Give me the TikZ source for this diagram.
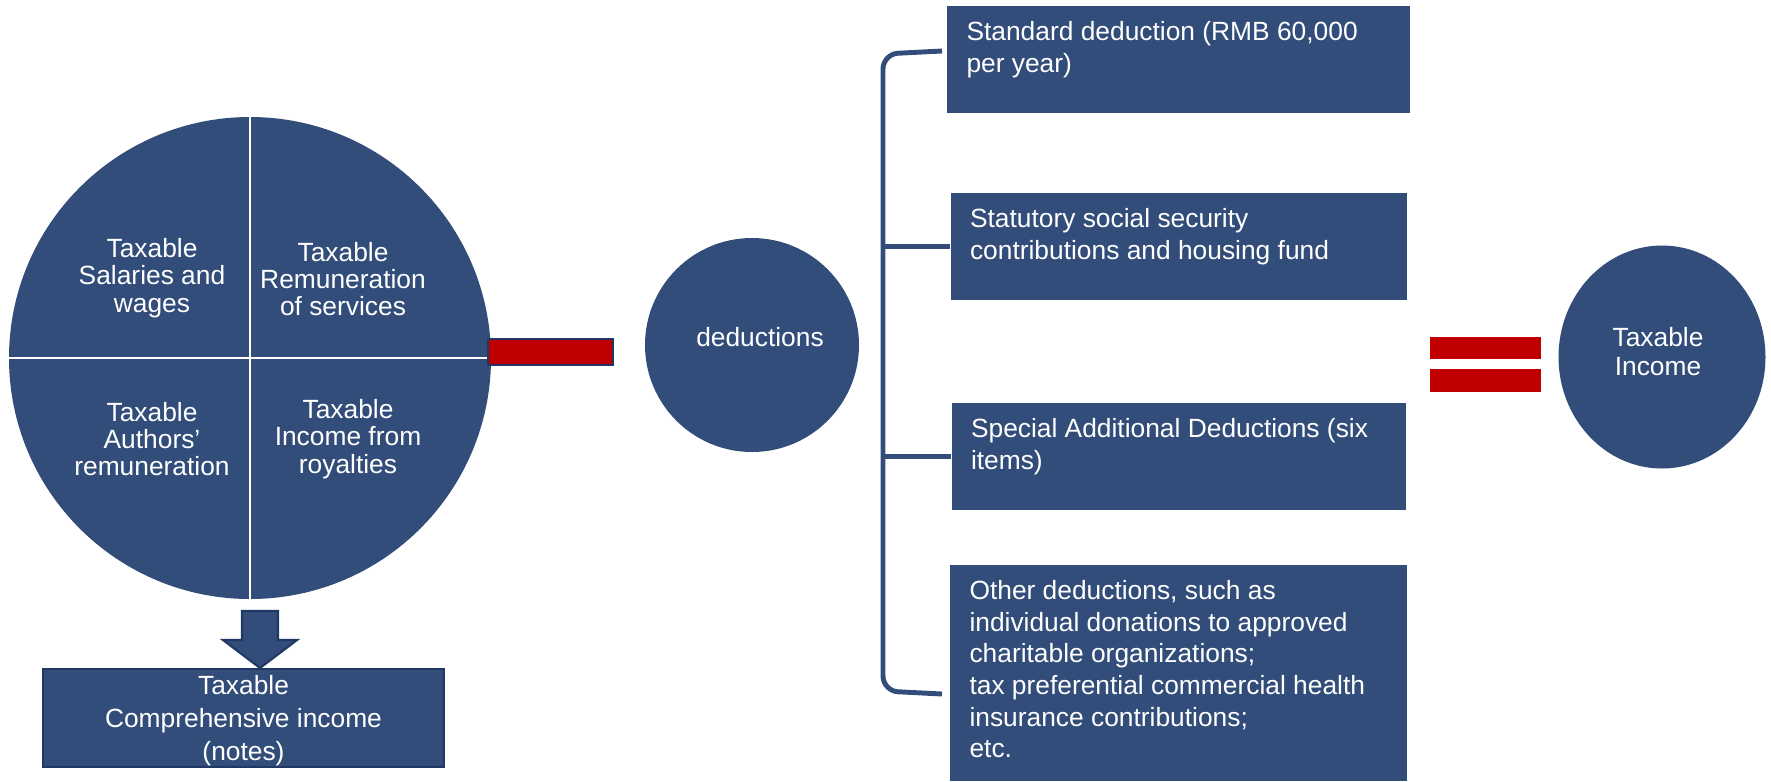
\documentclass[tikz,border=0pt]{standalone}
\usepackage{fontspec}
\setmainfont{Liberation Sans}
\usetikzlibrary{positioning,shapes.geometric}
\definecolor{navy}{HTML}{324D79}
\definecolor{darknavy}{HTML}{1F3864}
\definecolor{minusred}{HTML}{C00000}

\begin{document}
\begin{tikzpicture}[x=0.1mm, y=0.1mm, auto,
        % Define styles
        bigcircle/.style={
        circle,
        fill=navy,
        text=white,
        inner sep=0pt,
        align=center,
        font=\fontsize{7.5pt}{8.25pt}\selectfont
        },
        quarter/.style={text=white, align=center, font=\fontsize{7.5pt}{7.8pt}\selectfont},
        dedbox/.style={rectangle, fill=navy, inner sep=0pt},
        boxtext/.style={text=white, align=left, inner sep=0pt, font=\fontsize{7.5pt}{9pt}\selectfont},
        redbar/.style={rectangle, fill=minusred, inner sep=0pt},
        bracket/.style={draw=navy, line width=1.4pt}
        ]
        \useasboundingbox (0,0) rectangle (1771,-781);

        % Income circle
        \node[bigcircle, minimum size=48.2mm] (income) at (250,-358) {};
        \draw[white, line width=0.8pt] (income.north) -- (income.south);
        \draw[white, line width=0.8pt] (income.west) -- (income.east);
        \node[quarter] (salaries) at (152,-278) {Taxable\\Salaries and\\wages};
        \node[quarter] (services) at (343,-279) {Taxable\\Remuneration\\of services};
        \node[quarter] (authors) at (152,-439) {Taxable\\Authors'\\remuneration};
        \node[quarter] (royalties) at (348,-439) {Taxable\\Income from\\royalties};

        % Comprehensive income
        \node[rectangle, fill=navy, draw=darknavy, line width=0.6pt, minimum width=40.1mm,
              minimum height=9.8mm, inner sep=0pt,
              label={[text=white, align=center, yshift=-0.25mm, font=\fontsize{7.5pt}{9.4pt}\selectfont]center:Taxable\\Comprehensive income\\(notes)}]
              (comprehensive) at (243.5,-718) {};
        \coordinate (arrowtip) at (260,-668);
        \draw[fill=navy, draw=darknavy, line width=0.6pt] (arrowtip) -- ++(-37,28) -- ++(19,0)
              -- ++(0,29) -- ++(36,0) -- ++(0,-29) -- ++(19,0) -- cycle;

        % Minus and deductions
        \node[redbar, draw=darknavy, line width=0.6pt, minimum width=12.5mm, minimum height=2.6mm] (minus) at (550.5,-352) {};
        \node[bigcircle, minimum size=21.4mm,
              label={[text=white, xshift=0.8mm, yshift=0.8mm, font=\fontsize{7.5pt}{8.25pt}\selectfont]center:deductions}]
              (deductions) at (752,-345) {};

        % Deduction boxes
        \node[dedbox, minimum width=46.3mm, minimum height=10.7mm] (standard) at (1178.5,-59.5) {};
        \node[dedbox, minimum width=45.6mm, minimum height=10.7mm, below of=standard, node distance=18.7mm] (social) {};
        \node[dedbox, minimum width=45.4mm, minimum height=10.7mm, below of=social, node distance=21mm] (special) {};
        \node[dedbox, minimum width=45.7mm, minimum height=21.6mm, below of=special, node distance=21.65mm] (other) {};

        \node[boxtext, below right=1.55mm and 1.95mm of standard.north west] (standardtext)
              {Standard deduction (RMB 60,000\\per year)};
        \node[boxtext, below right=1.55mm and 1.95mm of social.north west] (socialtext)
              {Statutory social security\\contributions and housing fund};
        \node[boxtext, below right=1.55mm and 1.95mm of special.north west] (specialtext)
              {Special Additional Deductions (six\\items)};
        \node[boxtext, below right=1.55mm and 1.95mm of other.north west] (othertext)
              {Other deductions, such as\\individual donations to approved\\charitable organizations;\\tax preferential commercial health\\insurance contributions;\\etc.};

        % Bracket
        \draw[bracket, rounded corners=1.5mm] (942,-51) -- (883,-54) -- (883,-691) -- (942,-694);
        \draw[bracket] (social.west) -- ++(-67,0);
        \draw[bracket] (special.west) -- ++(-67,0);

        % Equals and result
        \node[redbar, minimum width=11.1mm, minimum height=2.2mm] (eqtop) at (1485.5,-348) {};
        \node[redbar, minimum width=11.1mm, minimum height=2.3mm, below of=eqtop, node distance=3.25mm] (eqbottom) {};
        \node[ellipse, fill=navy, minimum width=20.7mm, minimum height=22.3mm, inner sep=0pt,
              label={[text=white, align=center, xshift=-0.4mm, yshift=0.5mm, font=\fontsize{7.5pt}{8.25pt}\selectfont]center:Taxable\\Income}]
              (taxable) at (1662,-357) {};
    \end{tikzpicture}
\end{document}
